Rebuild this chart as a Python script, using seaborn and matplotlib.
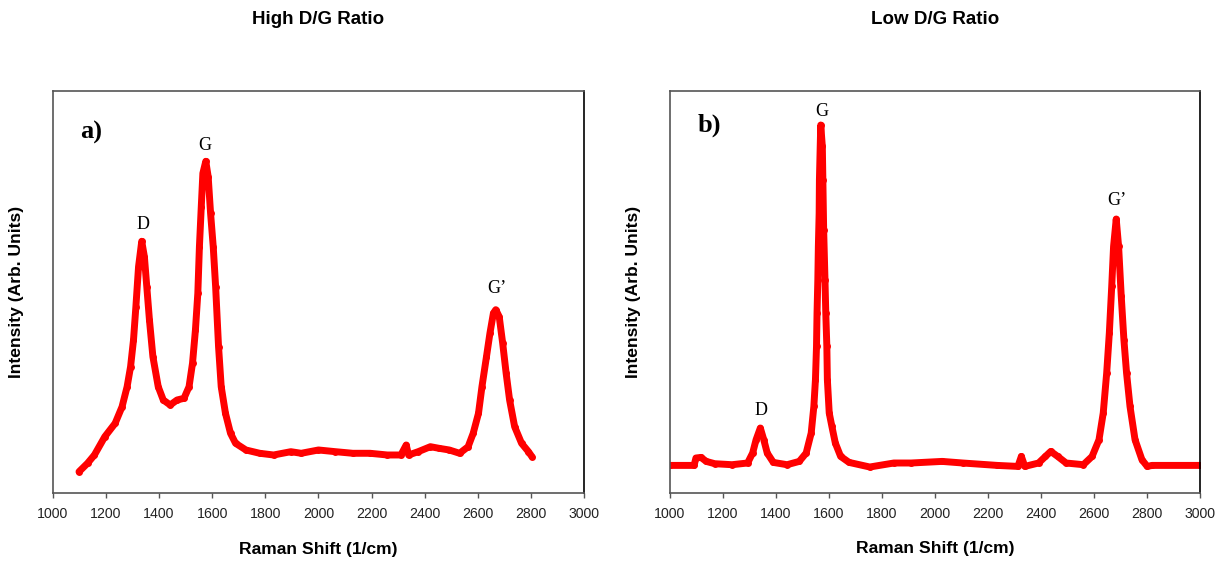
import matplotlib
matplotlib.use("Agg")
import matplotlib.pyplot as plt
import seaborn as sns
import pandas as pd

# Raman spectrum, sample with a high D/G ratio (intensity in arbitrary units)
shift_high = [1099, 1131, 1157, 1196, 1235, 1261, 1280, 1293, 1304, 1313, 1323,
              1335, 1345, 1354, 1364, 1377, 1397, 1416, 1442, 1468, 1494, 1513,
              1526, 1537, 1546, 1552, 1559, 1565, 1576, 1585, 1594, 1604, 1613,
              1624, 1634, 1650, 1669, 1688, 1727, 1779, 1831, 1896, 1935, 2000,
              2064, 2129, 2194, 2259, 2310, 2330, 2339, 2375, 2421, 2453, 2492,
              2531, 2563, 2582, 2602, 2615, 2632, 2645, 2658, 2667, 2680, 2693,
              2706, 2719, 2738, 2764, 2790, 2803]
intensity_high = [21.6, 30.0, 38.3, 56.6, 70.0, 86.6, 106.6, 126.6, 153.3, 186.6, 226.6,
                  252.0, 236.6, 206.6, 173.3, 136.6, 106.6, 93.3, 88.3, 93.3, 95.0, 106.6,
                  130.0, 163.3, 200.0, 246.6, 286.6, 320.0, 332.0, 316.6, 280.0, 246.6, 206.6,
                  146.6, 106.6, 80.0, 60.0, 50.0, 43.3, 40.0, 38.3, 41.6, 40.0, 43.3,
                  41.6, 40.0, 40.0, 38.3, 38.3, 48.3, 38.3, 41.6, 46.6, 45.0, 43.3,
                  40.0, 46.6, 60.0, 80.0, 106.6, 136.6, 160.0, 180.0, 183.6, 176.6, 150.0,
                  120.0, 93.3, 66.6, 50.0, 41.6, 36.6]

# Raman spectrum, sample with a low D/G ratio
shift_low = [1000, 1091, 1098, 1117, 1137, 1169, 1234, 1293, 1312, 1325, 1341,
             1354, 1367, 1390, 1442, 1488, 1514, 1533, 1543, 1549, 1553, 1555,
             1558, 1560, 1563, 1564, 1567, 1569, 1575, 1577, 1580, 1585, 1588,
             1592, 1594, 1601, 1611, 1624, 1644, 1676, 1754, 1845, 1910, 2027,
             2105, 2235, 2313, 2326, 2339, 2391, 2417, 2437, 2463, 2495, 2560,
             2593, 2619, 2635, 2648, 2658, 2667, 2674, 2684, 2693, 2703, 2713,
             2723, 2736, 2755, 2781, 2801, 2820, 3000]
intensity_low = [27.6, 27.6, 35.0, 35.6, 31.6, 29.3, 28.3, 30.0, 40.0, 53.3, 65.0,
                 53.3, 40.0, 30.6, 28.3, 31.6, 40.0, 60.0, 86.6, 113.3, 146.6, 180.0,
                 213.3, 246.6, 280.0, 313.3, 346.6, 368.0, 346.6, 313.3, 263.3, 213.3, 180.0,
                 146.6, 113.3, 80.0, 66.6, 50.0, 36.6, 30.6, 26.0, 30.0, 30.0, 31.6,
                 30.0, 27.6, 26.6, 36.6, 26.6, 30.0, 36.6, 41.6, 36.6, 30.0, 28.3,
                 36.6, 53.3, 80.0, 120.0, 160.0, 206.6, 246.6, 274.0, 246.6, 196.6, 153.3,
                 120.0, 86.6, 53.3, 33.3, 26.6, 27.6, 27.6]

panel_titles = ["High D/G Ratio", "Low D/G Ratio"]
panel_tags = ["a)", "b)"]
band_names = ["D", "G", "G\u2019"]
bands_high = [(1340, 269), (1573, 348), (2671, 205)]
bands_low = [(1343, 83), (1574, 382), (2687, 293)]
x_ticks = list(range(1000, 3001, 200))

sns.set_style("white")
plt.rcParams["font.family"] = ["Liberation Sans", "DejaVu Sans"]
plt.rcParams["text.color"] = "black"
plt.rcParams["axes.labelcolor"] = "black"
plt.rcParams["xtick.color"] = "black"

fig = plt.figure(figsize=(12.17, 5.61), dpi=100)
axes = [fig.add_axes([0.0433, 0.1207, 0.4368, 0.7171]),
        fig.add_axes([0.5505, 0.1212, 0.4355, 0.7171])]

datasets = [(shift_high, intensity_high, bands_high, (0.072, 0.898)),
            (shift_low, intensity_low, bands_low, (0.074, 0.913))]

for ax, (xs, ys, bands, tag_pos), title, tag in zip(axes, datasets, panel_titles, panel_tags):
    df = pd.DataFrame({"shift": xs, "intensity": ys})
    sns.lineplot(data=df, x="shift", y="intensity", ax=ax, color="#ff0000",
                 linewidth=5.0, marker="o", markersize=5, markeredgewidth=0,
                 sort=False, estimator=None, solid_capstyle="round",
                 solid_joinstyle="round")
    ax.set_xlim(1000, 3000)
    ax.set_ylim(0, 402.3)
    ax.set_xticks(x_ticks)
    ax.set_xticklabels([str(t) for t in x_ticks])
    ax.set_yticks([])
    ax.tick_params(axis="x", direction="out", length=3.8, width=1.0,
                   color="#555555", labelcolor="#222222", labelsize=10.2,
                   pad=6, bottom=True)
    for side in ["left", "bottom", "top"]:
        ax.spines[side].set_color("#555555")
        ax.spines[side].set_linewidth(1.2)
    ax.spines["right"].set_color("#000000")
    ax.spines["right"].set_linewidth(1.2)

    ax.set_xlabel("Raman Shift (1/cm)", fontsize=12.6, fontweight="bold", va="center")
    ax.xaxis.set_label_coords(0.5, -0.1385)
    ax.set_ylabel("Intensity (Arb. Units)", fontsize=12.6, fontweight="bold", va="center")
    ax.yaxis.set_label_coords(-0.069, 0.5)

    ax.text(0.5, 1.0 + 71 / 402.3, title, transform=ax.transAxes, ha="center",
            va="center", fontsize=13.5, fontweight="bold")
    ax.text(tag_pos[0], tag_pos[1], tag, transform=ax.transAxes, ha="center",
            va="center", fontsize=19, fontweight="bold", family="Liberation Serif")
    for name, (bx, by) in zip(band_names, bands):
        ax.text(bx, by, name, ha="center", va="center", fontsize=13,
                family="Liberation Serif")

fig.savefig("out.png", dpi=100, facecolor="white")
